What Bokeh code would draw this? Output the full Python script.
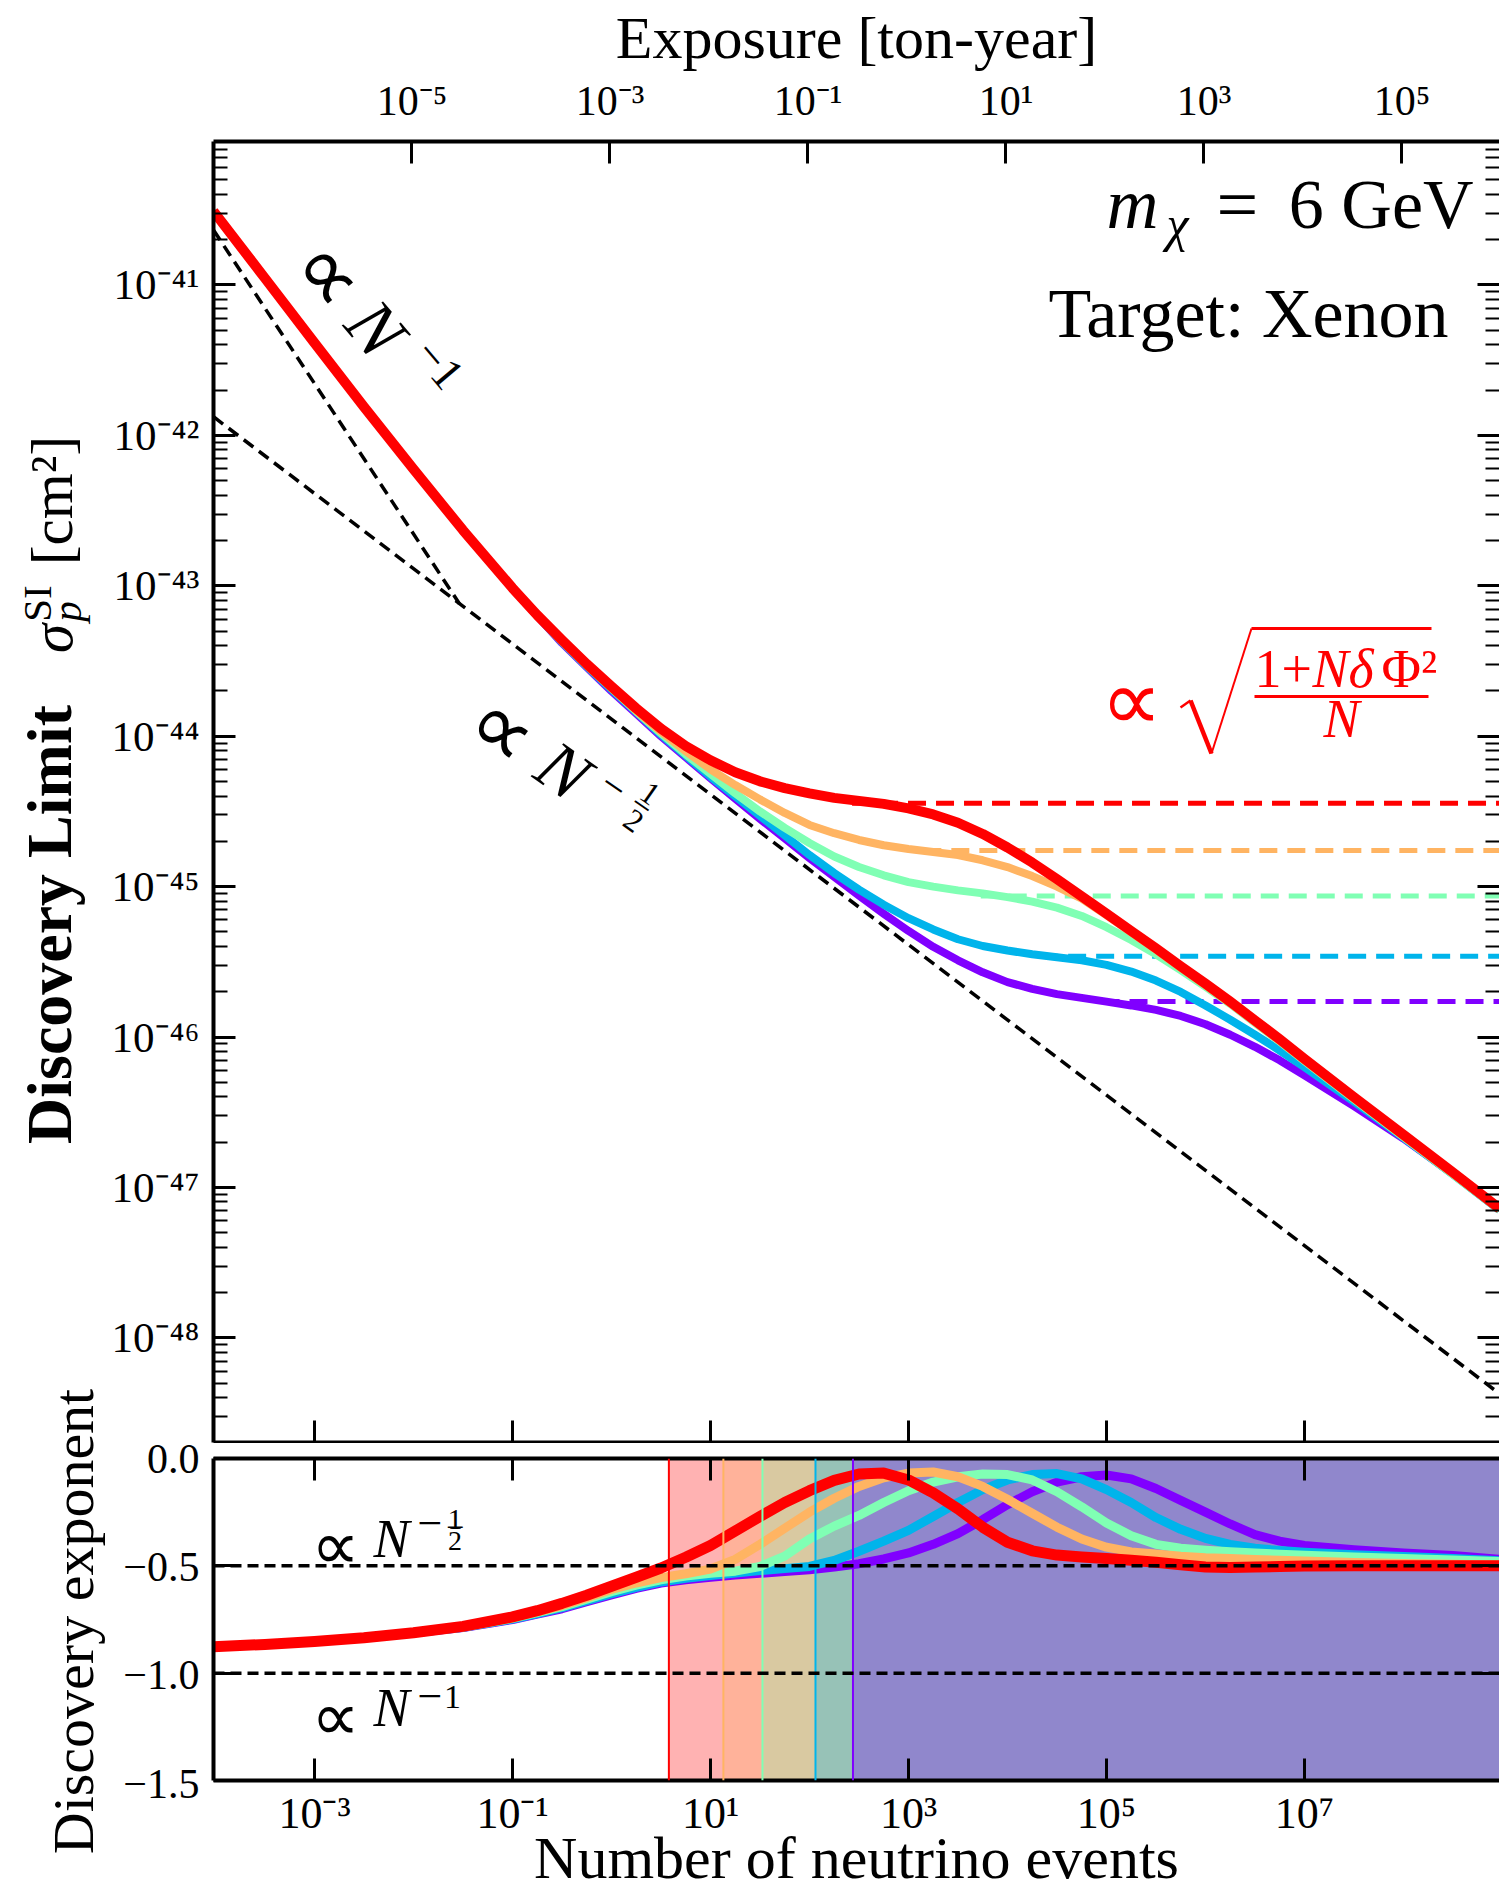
import math
from bokeh.plotting import figure
from bokeh.models import (Range1d, LogScale, LogAxis, LinearAxis, FixedTicker,
                          CustomJSTickFormatter, Label, Span, BoxAnnotation, Arrow)
from bokeh.layouts import column, row
from bokeh.embed import file_html
from bokeh.resources import INLINE

FONT = "Liberation Serif"
SYMFONT = "DejaVu Sans"
RED, ORANGE, GREEN, CYAN, PURPLE = "#ff0000", "#ffb462", "#80ffb4", "#00b4eb", "#8000ff"

# ---------------- data ----------------
# number of neutrino events, written as powers of ten
events_exp10 = [-4.02, -3.5, -3.0, -2.5, -2.0, -1.5, -1.0, -0.75, -0.5, -0.25, 0.0, 0.25, 0.5,
                0.75, 1.0, 1.25, 1.5, 1.75, 2.0, 2.25, 2.5, 2.75, 3.0, 3.25, 3.5, 3.75, 4.0,
                4.25, 4.5, 4.75, 5.0, 5.25, 5.5, 5.75, 6.0, 6.25, 6.5, 6.75, 7.0, 7.5, 8.0,
                8.5, 8.97]

# discovery limit sigma_p^SI [cm^2], written as powers of ten
sigma_red_exp10 = [-40.51, -40.955, -41.385, -41.81, -42.225, -42.63, -43.015, -43.195, -43.36,
                   -43.52, -43.67, -43.815, -43.95, -44.065, -44.16, -44.24, -44.30, -44.345,
                   -44.38, -44.41, -44.43, -44.45, -44.48, -44.52, -44.575, -44.65, -44.74,
                   -44.84, -44.95, -45.065, -45.18, -45.295, -45.41, -45.53, -45.645, -45.765,
                   -45.89, -46.015, -46.145, -46.40, -46.65, -46.90, -47.14]
sigma_orange_exp10 = [-40.51, -40.955, -41.385, -41.81, -42.225, -42.63, -43.015, -43.197, -43.365,
                      -43.525, -43.68, -43.83, -43.97, -44.10, -44.22, -44.325, -44.42, -44.51,
                      -44.59, -44.645, -44.69, -44.725, -44.75, -44.77, -44.79, -44.825, -44.87,
                      -44.93, -45.00, -45.08, -45.19, -45.305, -45.42, -45.54, -45.655, -45.775,
                      -45.90, -46.025, -46.155, -46.41, -46.66, -46.91, -47.145]
sigma_green_exp10 = [-40.51, -40.955, -41.385, -41.81, -42.225, -42.63, -43.015, -43.198, -43.37,
                     -43.53, -43.68, -43.835, -43.98, -44.12, -44.25, -44.38, -44.50, -44.61,
                     -44.71, -44.80, -44.87, -44.925, -44.97, -45.00, -45.025, -45.045, -45.07,
                     -45.10, -45.14, -45.195, -45.27, -45.355, -45.45, -45.555, -45.665, -45.78,
                     -45.905, -46.03, -46.16, -46.415, -46.665, -46.915, -47.15]
sigma_cyan_exp10 = [-40.51, -40.955, -41.385, -41.81, -42.225, -42.63, -43.015, -43.198, -43.375,
                    -43.535, -43.69, -43.84, -43.99, -44.13, -44.27, -44.40, -44.53, -44.66,
                    -44.79, -44.91, -45.02, -45.12, -45.21, -45.285, -45.35, -45.395, -45.425,
                    -45.45, -45.47, -45.49, -45.52, -45.565, -45.625, -45.70, -45.79, -45.885,
                    -45.985, -46.09, -46.20, -46.43, -46.67, -46.915, -47.15]
sigma_purple_exp10 = [-40.51, -40.955, -41.385, -41.81, -42.225, -42.63, -43.015, -43.20, -43.38,
                      -43.54, -43.70, -43.85, -44.00, -44.14, -44.28, -44.415, -44.55, -44.68,
                      -44.81, -44.935, -45.06, -45.18, -45.295, -45.40, -45.49, -45.57, -45.635,
                      -45.68, -45.715, -45.74, -45.765, -45.79, -45.82, -45.86, -45.915, -45.985,
                      -46.065, -46.155, -46.255, -46.46, -46.675, -46.91, -47.15]

# discovery exponent (lower panel)
exponent_red = [-0.877, -0.866, -0.852, -0.835, -0.812, -0.782, -0.738, -0.709, -0.675, -0.637,
                -0.595, -0.553, -0.51, -0.46, -0.405, -0.338, -0.27, -0.205, -0.15, -0.102,
                -0.072, -0.068, -0.10, -0.16, -0.235, -0.32, -0.39, -0.43, -0.45, -0.459,
                -0.466, -0.474, -0.483, -0.495, -0.505, -0.508, -0.506, -0.503, -0.501, -0.50,
                -0.50, -0.50, -0.50]
exponent_orange = [-0.877, -0.866, -0.852, -0.835, -0.812, -0.784, -0.742, -0.715, -0.685, -0.648,
                   -0.61, -0.58, -0.555, -0.537, -0.515, -0.47, -0.40, -0.325, -0.25, -0.185,
                   -0.13, -0.09, -0.068, -0.063, -0.085, -0.13, -0.19, -0.255, -0.32, -0.375,
                   -0.413, -0.435, -0.445, -0.455, -0.462, -0.466, -0.47, -0.474, -0.478, -0.484,
                   -0.489, -0.493, -0.496]
exponent_green = [-0.877, -0.866, -0.852, -0.835, -0.812, -0.785, -0.745, -0.718, -0.69, -0.655,
                  -0.62, -0.59, -0.565, -0.548, -0.535, -0.525, -0.503, -0.455, -0.375, -0.315,
                  -0.265, -0.205, -0.15, -0.11, -0.085, -0.072, -0.075, -0.10, -0.155, -0.225,
                  -0.30, -0.36, -0.40, -0.418, -0.427, -0.434, -0.44, -0.446, -0.451, -0.459,
                  -0.466, -0.473, -0.48]
exponent_cyan = [-0.877, -0.866, -0.852, -0.835, -0.812, -0.786, -0.748, -0.722, -0.695, -0.662,
                 -0.63, -0.60, -0.575, -0.558, -0.545, -0.533, -0.522, -0.513, -0.503, -0.475,
                 -0.432, -0.385, -0.335, -0.27, -0.205, -0.145, -0.10, -0.075, -0.07, -0.095,
                 -0.145, -0.205, -0.275, -0.33, -0.372, -0.40, -0.418, -0.429, -0.437, -0.448,
                 -0.457, -0.466, -0.477]
exponent_purple = [-0.877, -0.866, -0.852, -0.835, -0.812, -0.787, -0.75, -0.725, -0.70, -0.667,
                   -0.635, -0.605, -0.58, -0.565, -0.553, -0.543, -0.535, -0.527, -0.518, -0.506,
                   -0.49, -0.468, -0.44, -0.40, -0.35, -0.285, -0.215, -0.155, -0.11, -0.085,
                   -0.077, -0.095, -0.14, -0.195, -0.25, -0.305, -0.355, -0.385, -0.405, -0.425,
                   -0.44, -0.452, -0.47]

# plateau (neutrino floor) levels and where their dashed lines start
plateau_sigma = [3.58e-45, 1.74e-45, 8.65e-46, 3.44e-46, 1.72e-46]
plateau_start_events = [269.0, 1413.0, 5370.0, 21380.0, 89125.0]
# events where each curve's exponent crosses -1/2 (shaded regions start there)
crossing_events = [3.8, 13.5, 33.5, 115.0, 275.0]

# guide lines  (N^-1 and N^-1/2)
guide_n1_events = [9.55e-5, 2.91e-2]
guide_n1_sigma = [2.32e-41, 7.60e-44]
guide_nhalf_events = [9.55e-5, 9.33e8]
guide_nhalf_sigma = [1.33e-42, 4.25e-49]

# exposure per neutrino event [ton-year]
exposure_per_event = 1.035e-3

# ticks
event_ticks = [1e-3, 1e-1, 1e1, 1e3, 1e5, 1e7]
exposure_ticks = [1e-5, 1e-3, 1e-1, 1e1, 1e3, 1e5]
sigma_tick_exps = [-48, -47, -46, -45, -44, -43, -42, -41]
sigma_ticks = [10.0 ** e for e in sigma_tick_exps]
sigma_minor = [k * 10.0 ** n for n in range(-49, -40) for k in range(2, 10)]
exponent_ticks = [-1.5, -1.0, -0.5, 0.0]

colors = [RED, ORANGE, GREEN, CYAN, PURPLE]

# ---------------- page geometry (page has no margin) ----------------
PAGE_W, PAGE_H = 1499, 1893
STRIP_W = 200
MAIN_W = PAGE_W - STRIP_W
FRAME_L = 213
FRAME_R = PAGE_W
X_LO, X_HI = -4.02, 8.97
TOP_H = 1443
TOP_T = 141
TOP_B = 1442
Y_LO, Y_HI = -48.696, -40.046
BOT_H = PAGE_H - TOP_H
BOT_T = 1458
BOT_B = BOT_T + 325
MID = 0.3375   # distance (in em) from alphabetic baseline to the 'middle' anchor


def xd(px):
    return 10 ** (X_LO + (px - FRAME_L) * (X_HI - X_LO) / (FRAME_R - FRAME_L))


def yd_top(py):
    return 10 ** (Y_HI - (py - TOP_T) * (Y_HI - Y_LO) / (TOP_B - TOP_T))


def yd_bot(py):
    return -(py - BOT_T) * 1.5 / (BOT_B - BOT_T)


def py_top(exp10):
    return TOP_T + (Y_HI - exp10) * (TOP_B - TOP_T) / (Y_HI - Y_LO)


def py_bot(v):
    return BOT_T - v * (BOT_B - BOT_T) / 1.5


SUPER = {"-": "\u207b", "0": "\u2070", "1": "\u00b9", "2": "\u00b2", "3": "\u00b3",
         "4": "\u2074", "5": "\u2075", "6": "\u2076", "7": "\u2077", "8": "\u2078", "9": "\u2079"}

SUP_JS = """
const m = {"-":"\u207b","0":"\u2070","1":"\u00b9","2":"\u00b2","3":"\u00b3","4":"\u2074",
           "5":"\u2075","6":"\u2076","7":"\u2077","8":"\u2078","9":"\u2079"};
const e = Math.round(Math.log10(tick));
let s = "";
for (const c of String(e)) { s += m[c]; }
return "10" + s;
"""
EMPTY_JS = 'return "";'


def style_axis(ax, label_size=None, standoff=10, minor=True):
    ax.axis_line_width = 4
    ax.axis_line_color = "black"
    ax.major_tick_in = 22
    ax.major_tick_out = 0
    ax.major_tick_line_width = 3
    ax.minor_tick_in = 14 if minor else 0
    ax.minor_tick_out = 0
    ax.minor_tick_line_width = 2
    ax.major_label_standoff = standoff
    if label_size:
        ax.major_label_text_font = FONT
        ax.major_label_text_font_size = f"{label_size}px"
        ax.major_label_text_color = "black"
    else:
        ax.formatter = CustomJSTickFormatter(code=EMPTY_JS)
        ax.major_label_text_font_size = "1px"
        ax.major_label_text_color = None


def put(p, x, y, text, size, color="black", style="normal", align="center", angle=0.0,
        font=FONT):
    """Text whose 'middle' line is at (x, y) in data units."""
    p.add_layout(Label(x=x, y=y, text=text, text_font=font, text_font_size=f"{size}px",
                       text_color=color, text_font_style=style, text_align=align,
                       text_baseline="middle", angle=angle))


def put_base(p, conv_y, px, py_base, text, size, **kw):
    """Text with its alphabetic baseline at page pixel py_base."""
    put(p, xd(px), conv_y(py_base - MID * size), text, size, **kw)


def rot_pieces(p, cx, cy, angle_deg, pieces):
    a = math.radians(angle_deg)
    ux, uy = math.cos(a), -math.sin(a)
    vx, vy = -math.sin(a), -math.cos(a)
    for text, size, s, t, style, font in pieces:
        px = cx + s * ux + t * vx
        py = cy + s * uy + t * vy
        put(p, xd(px), yd_top(py), text, size, style=style, angle=a, font=font)


def seg(p, conv_y, x0, y0, x1, y1, color, width):
    p.add_layout(Arrow(end=None, x_start=xd(x0), y_start=conv_y(y0), x_end=xd(x1),
                       y_end=conv_y(y1), line_color=color, line_width=width))


def clean(p):
    p.outline_line_color = None
    p.grid.visible = False
    p.background_fill_color = "white"
    p.border_fill_color = "white"


# ================= left strip: vertical titles and y tick labels =================
strip = figure(width=STRIP_W, height=PAGE_H, x_range=Range1d(0, STRIP_W),
               y_range=Range1d(PAGE_H, 0), x_axis_location=None, y_axis_location=None,
               output_backend="svg", toolbar_location=None, min_border=0)
clean(strip)
V = math.pi / 2
put(strip, 49, 924, "Discovery Limit", 64, style="bold", angle=V)
put(strip, 51, 638, "\u03c3", 59, style="italic", angle=V)
put(strip, 36, 603, "SI", 41, angle=V)
put(strip, 66, 611, "p", 41, style="italic", angle=V)
put(strip, 51, 500, "[cm\u00b2]", 59, angle=V)
put(strip, 73, 1621, "Discovery exponent", 58, angle=V)

LABEL_RIGHT = FRAME_L - 14
for e in sigma_tick_exps:
    put(strip, LABEL_RIGHT, py_top(e), "10" + "".join(SUPER[c] for c in str(e)), 43,
        align="right")
for v in exponent_ticks:
    txt = ("\u2212" if v < 0 else "") + f"{abs(v):.1f}"
    put(strip, LABEL_RIGHT, py_bot(v), txt, 42, align="right")

# ================= top panel =================
p1 = figure(width=MAIN_W, height=TOP_H, x_axis_type="log", y_axis_type="log",
            x_range=Range1d(10 ** X_LO, 10 ** X_HI), y_range=Range1d(10 ** Y_LO, 10 ** Y_HI),
            output_backend="svg", toolbar_location=None,
            min_border_left=FRAME_L - STRIP_W, min_border_right=0, min_border_top=TOP_T,
            min_border_bottom=TOP_H - TOP_B)
clean(p1)

bx = p1.xaxis[0]
bx.ticker = FixedTicker(ticks=event_ticks, minor_ticks=[])
style_axis(bx, None, 0)
ly = p1.yaxis[0]
ly.ticker = FixedTicker(ticks=sigma_ticks, minor_ticks=sigma_minor)
style_axis(ly, None, 0)
ry = LogAxis(ticker=FixedTicker(ticks=sigma_ticks, minor_ticks=sigma_minor))
style_axis(ry, None, 0)
ry.axis_line_color = None
p1.add_layout(ry, "right")

p1.extra_x_ranges = {"exp": Range1d(10 ** X_LO * exposure_per_event, 10 ** X_HI * exposure_per_event)}
p1.extra_x_scales = {"exp": LogScale()}
tx = LogAxis(x_range_name="exp", ticker=FixedTicker(ticks=exposure_ticks, minor_ticks=[]),
             formatter=CustomJSTickFormatter(code=SUP_JS))
style_axis(tx, 42, 18)
tx.axis_label = "Exposure [ton-year]"
tx.axis_label_text_font = FONT
tx.axis_label_text_font_size = "60px"
tx.axis_label_text_font_style = "normal"
tx.axis_label_text_color = "black"
tx.axis_label_standoff = 4
p1.add_layout(tx, "above")

events = [10 ** v for v in events_exp10]
curves_top = [(PURPLE, sigma_purple_exp10, 8), (CYAN, sigma_cyan_exp10, 8),
              (GREEN, sigma_green_exp10, 8), (ORANGE, sigma_orange_exp10, 8),
              (RED, sigma_red_exp10, 10)]
plateau_of = {c: (s, y) for c, s, y in zip(colors, plateau_start_events, plateau_sigma)}
for col, arr, w in curves_top:
    p1.line(events, [10 ** v for v in arr], line_color=col, line_width=w, line_join="round")
    s, y = plateau_of[col]
    p1.ray(x=[s], y=[y], length=0, angle=0, line_color=col, line_width=5, line_dash="18 10")

p1.line(guide_n1_events, guide_n1_sigma, line_color="black", line_width=3.5, line_dash="12 7")
p1.line(guide_nhalf_events, guide_nhalf_sigma, line_color="black", line_width=3.5, line_dash="12 7")

# annotations
put_base(p1, yd_top, 1106, 228, "m", 72, style="italic", align="left")
put_base(p1, yd_top, 1166, 240, "\u03c7", 50, style="italic", align="left")
put_base(p1, yd_top, 1216, 228, "=", 74, align="left")
put_base(p1, yd_top, 1473, 228, "6 GeV", 70, align="right")
put_base(p1, yd_top, 1448, 337, "Target: Xenon", 70, align="right")

rot_pieces(p1, 329, 273, -50, [("\u221d", 88, 0, 0, "normal", SYMFONT),
                               ("N", 72, 72, 0, "italic", FONT),
                               ("\u22121", 46, 140, 26, "normal", FONT)])
rot_pieces(p1, 502.5, 727.7, -35, [("\u221d", 88, 0, 0, "normal", SYMFONT),
                                   ("N", 70, 74, 0, "italic", FONT),
                                   ("\u2212", 42, 124, 16, "normal", FONT),
                                   ("1", 32, 158, 31, "normal", FONT),
                                   ("\u2212", 36, 158, 16, "normal", FONT),
                                   ("2", 32, 160, -1, "normal", FONT)])

# red formula  ∝ sqrt((1+NδΦ²)/N)
put(p1, xd(1131), yd_top(699), "\u221d", 86, color=RED, font=SYMFONT)
put_base(p1, yd_top, 1254, 687, "1+", 54, color=RED, align="left")
put_base(p1, yd_top, 1312, 687, "N\u03b4", 54, color=RED, style="italic", align="left")
put_base(p1, yd_top, 1381, 687, "\u03a6\u00b2", 54, color=RED, align="left")
put_base(p1, yd_top, 1341, 737, "N", 54, color=RED, style="italic")
seg(p1, yd_top, 1254, 696, 1428, 696, RED, 3)
seg(p1, yd_top, 1180, 707, 1190, 700, RED, 2.5)
seg(p1, yd_top, 1190, 700, 1211, 753, RED, 4.5)
seg(p1, yd_top, 1211, 753, 1251, 628, RED, 2)
seg(p1, yd_top, 1251, 628, 1431, 628, RED, 3)

# ================= bottom panel =================
p2 = figure(width=MAIN_W, height=BOT_H, x_axis_type="log",
            x_range=Range1d(10 ** X_LO, 10 ** X_HI), y_range=Range1d(-1.5, 0.0),
            output_backend="svg", toolbar_location=None,
            min_border_left=FRAME_L - STRIP_W, min_border_right=0,
            min_border_top=BOT_T - TOP_H, min_border_bottom=PAGE_H - BOT_B)
clean(p2)

bx2 = p2.xaxis[0]
bx2.ticker = FixedTicker(ticks=event_ticks, minor_ticks=[])
bx2.formatter = CustomJSTickFormatter(code=SUP_JS)
style_axis(bx2, 44, 8)
bx2.axis_label = "Number of neutrino events"
bx2.axis_label_text_font = FONT
bx2.axis_label_text_font_size = "60px"
bx2.axis_label_text_font_style = "normal"
bx2.axis_label_text_color = "black"
bx2.axis_label_standoff = -16
tx2 = LogAxis(ticker=FixedTicker(ticks=event_ticks, minor_ticks=[]))
style_axis(tx2, None, 0)
p2.add_layout(tx2, "above")
ly2 = p2.yaxis[0]
ly2.ticker = FixedTicker(ticks=exponent_ticks, minor_ticks=[])
style_axis(ly2, None, 0)
ry2 = LinearAxis(ticker=FixedTicker(ticks=exponent_ticks, minor_ticks=[]))
style_axis(ry2, None, 0)
ry2.axis_line_color = None
p2.add_layout(ry2, "right")

for col, n in zip(colors, crossing_events):
    p2.add_layout(BoxAnnotation(left=n, fill_color=col, fill_alpha=0.3, line_alpha=0,
                                level="underlay"))

for col, arr, w in [(PURPLE, exponent_purple, 9), (CYAN, exponent_cyan, 9),
                    (GREEN, exponent_green, 9), (ORANGE, exponent_orange, 9),
                    (RED, exponent_red, 11)]:
    p2.line(events, arr, line_color=col, line_width=w, line_join="round")

for col, n in zip(colors, crossing_events):
    p2.add_layout(Span(location=n, dimension="height", line_color=col, line_width=2))

for lev in [-0.5, -1.0]:
    p2.add_layout(Span(location=lev, dimension="width", line_color="black", line_width=3.5,
                       line_dash="11 6"))

# ∝ N^{-1/2}
put(p2, xd(335), yd_bot(1546), "\u221d", 68, font=SYMFONT)
put_base(p2, yd_bot, 373, 1557, "N", 54, style="italic", align="left")
put(p2, xd(429.5), yd_bot(1524), "\u2212", 44)
put_base(p2, yd_bot, 454.5, 1530, "1", 30)
put(p2, xd(454.5), yd_bot(1528), "\u2212", 32)
put_base(p2, yd_bot, 454.5, 1551, "2", 28)
# ∝ N^{-1}
put(p2, xd(335), yd_bot(1718), "\u221d", 68, font=SYMFONT)
put_base(p2, yd_bot, 373, 1728, "N", 54, style="italic", align="left")
put(p2, xd(429.5), yd_bot(1698), "\u2212", 44)
put_base(p2, yd_bot, 452, 1710, "1", 34)

layout = row(strip, column(p1, p2, spacing=0), spacing=0)
open("out.html", "w").write(file_html(layout, INLINE))
